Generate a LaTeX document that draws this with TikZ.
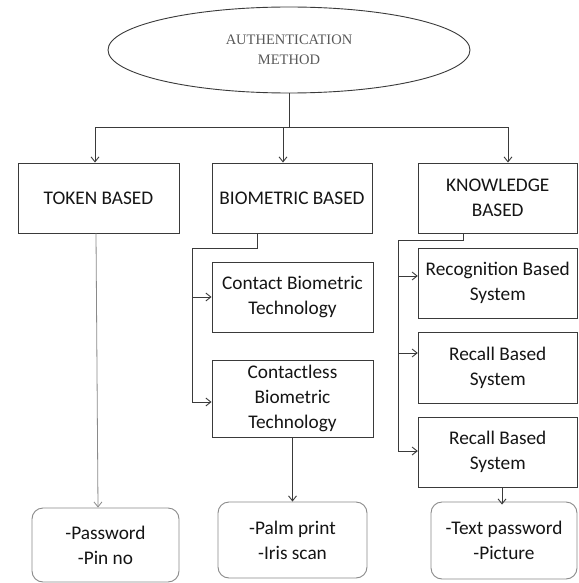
\documentclass[tikz,border=0pt]{standalone}
\usepackage{fontspec}
\setmainfont{Carlito}
\newfontfamily\serifauth{Liberation Serif}
\usetikzlibrary{shapes.geometric,arrows.meta}
\definecolor{linecol}{HTML}{3A3A3A}
\definecolor{softcol}{HTML}{8A8A8A}
\definecolor{txtcol}{HTML}{151515}
\tikzset{
  boxst/.style={draw=linecol,line width=0.9pt,rectangle,inner sep=0pt,align=center,text=txtcol,
    font=\fontsize{19.3}{25}\selectfont},
  roundst/.style={draw=softcol,line width=0.9pt,rectangle,rounded corners=11pt,inner sep=0pt,align=center,text=txtcol,
    font=\fontsize{19.3}{25}\selectfont},
  conn/.style={draw=linecol,line width=0.9pt},
  arr/.style={conn,-{Straight Barb[length=5pt,width=8pt]}},
  softarr/.style={draw=softcol,line width=0.8pt,-{Straight Barb[length=5pt,width=8pt]}},
}
\begin{document}
\begin{tikzpicture}[x=1pt,y=-1pt]
\useasboundingbox (0,0) rectangle (578,583);
\fill[white] (0,0) rectangle (578,583);
% top ellipse
\node[ellipse,draw=linecol,line width=0.9pt,minimum width=362pt,minimum height=86pt,inner sep=0pt,
  align=center,text=black!65,font=\serifauth\fontsize{14.5}{20}\selectfont] (auth) at (289,50)
  {AUTHENTICATION\\METHOD};
% first level
\node[boxst,minimum width=161pt,minimum height=70pt] (token) at (98.5,198) {TOKEN BASED};
\node[boxst,minimum width=160pt,minimum height=70pt] (bio) at (292,198) {BIOMETRIC BASED};
\node[boxst,minimum width=159pt,minimum height=70pt] (know) at (497.75,198) {KNOWLEDGE\\BASED};
% biometric children
\node[boxst,minimum width=161pt,minimum height=70pt] (contact) at (292.5,297) {Contact Biometric\\Technology};
\node[boxst,minimum width=161pt,minimum height=77pt] (contactless) at (292.5,398.5) {Contactless\\Biometric\\Technology};
% knowledge children
\node[boxst,minimum width=159pt,minimum height=70pt] (recog) at (497.75,283) {Recognition Based\\System};
\node[boxst,minimum width=159pt,minimum height=71pt] (recall) at (497.75,367.5) {Recall Based\\System};
\node[boxst,minimum width=159pt,minimum height=70pt] (recalltwo) at (497.75,452) {Recall Based\\System};
% leaves
\node[roundst,minimum width=147pt,minimum height=74pt] (pwd) at (105.5,545) {-Password\\-Pin no};
\node[roundst,minimum width=149pt,minimum height=76pt] (palm) at (292.5,540) {-Palm print\\-Iris scan};
\node[roundst,minimum width=146pt,minimum height=77pt] (txt) at (504,540.5) {-Text password\\-Picture};
% top connectors
\coordinate (hub) at (289,127);
\coordinate (hl) at (95,127);
\coordinate (hm) at (283,127);
\coordinate (hr) at (508,127);
\draw[conn] (auth.south) -- (hub);
\draw[conn] (hl) -- (hr);
\draw[arr] (hl) -- (hl |- token.north);
\draw[arr] (hm) -- (hm |- bio.north);
\draw[arr] (hr) -- (hr |- know.north);
% token to leaf
\draw[softarr] ([xshift=-2.5pt]token.south) -- ([xshift=-7.5pt]pwd.north);
% biometric branch
\coordinate (bs) at (257,233);
\coordinate (bc) at (192,248);
\coordinate (ba) at (192,297);
\coordinate (bb) at (192,402);
\draw[conn] (bs) |- (bc) -- (bb);
\draw[arr] (ba) -- (ba -| contact.west);
\draw[arr] (bb) -- (bb -| contactless.west);
\draw[arr] (contactless.south) -- (palm.north);
% knowledge branch
\coordinate (ks) at (463,233);
\coordinate (kc) at (398,240);
\coordinate (ka) at (398,276);
\coordinate (kb) at (398,353);
\coordinate (kd) at (398,451);
\draw[conn] (ks) |- (kc) -- (kd);
\draw[arr] (ka) -- (ka -| recog.west);
\draw[arr] (kb) -- (kb -| recall.west);
\draw[arr] (kd) -- (kd -| recalltwo.west);
\coordinate (kx) at (502,0);
\draw[arr] (kx |- recalltwo.south) -- ([yshift=-3pt]kx |- txt.north);
\end{tikzpicture}
\end{document}
